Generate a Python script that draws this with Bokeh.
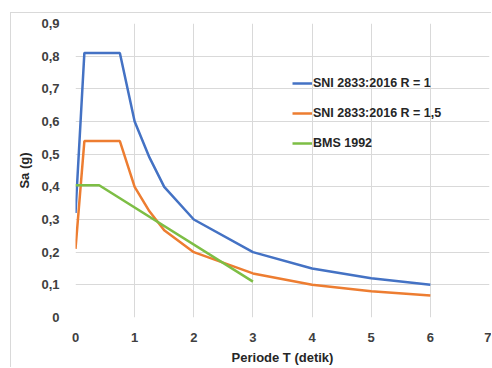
from bokeh.plotting import figure
from bokeh.models import Range1d, FixedTicker, Legend, LegendItem
from bokeh.embed import file_html
from bokeh.resources import INLINE

# Data
t_sni = [0, 0.15, 0.75, 1.0, 1.25, 1.5, 2, 3, 4, 5, 6]
sa_r1 = [0.32, 0.81, 0.81, 0.60, 0.49, 0.40, 0.30, 0.20, 0.15, 0.12, 0.10]
sa_r15 = [0.21, 0.54, 0.54, 0.40, 0.325, 0.267, 0.20, 0.135, 0.10, 0.08, 0.067]
t_bms = [0, 0.4, 3]
sa_bms = [0.405, 0.405, 0.11]

names = ["SNI 2833:2016 R = 1", "SNI 2833:2016 R = 1,5", "BMS 1992"]
colors = ["#4472C4", "#ED7D31", "#7DBE45"]

x_ticks = [0, 1, 2, 3, 4, 5, 6, 7]
y_ticks = [0, 0.1, 0.2, 0.3, 0.4, 0.5, 0.6, 0.7, 0.8, 0.9]
y_labels = ["0", "0,1", "0,2", "0,3", "0,4", "0,5", "0,6", "0,7", "0,8", "0,9"]

p = figure(width=481, height=355, output_backend="svg", toolbar_location=None,
           x_range=Range1d(0, 7), y_range=Range1d(0, 0.9),
           min_border_left=64, min_border_right=3, min_border_top=10, min_border_bottom=51)
p.margin = (12, 0, 0, 10)
p.styles = {"border-left": "1px solid #D9D9D9", "border-top": "1px solid #D9D9D9"}

p.outline_line_color = None
p.background_fill_color = "white"
p.border_fill_color = "white"

r1 = p.line(t_sni, sa_r1, color=colors[0], line_width=2.5)
r2 = p.line(t_sni, sa_r15, color=colors[1], line_width=2.5)
r3 = p.line(t_bms, sa_bms, color=colors[2], line_width=2.5)

p.xaxis.ticker = FixedTicker(ticks=x_ticks)
p.yaxis.ticker = FixedTicker(ticks=y_ticks)
p.yaxis.major_label_overrides = {v: s for v, s in zip(y_ticks, y_labels)}
p.xaxis.major_label_overrides = {v: str(v) for v in x_ticks}

for ax in (p.xaxis, p.yaxis):
    ax.axis_line_color = None
    ax.major_tick_line_color = None
    ax.minor_tick_line_color = None
    ax.major_label_text_font = "Liberation Sans"
    ax.major_label_text_font_style = "bold"
    ax.major_label_text_font_size = "13px"
    ax.major_label_text_color = "#404040"
    ax.axis_label_text_font = "Liberation Sans"
    ax.axis_label_text_font_style = "bold"
    ax.axis_label_text_font_size = "13px"
    ax.axis_label_text_color = "#262626"

p.xaxis.major_label_standoff = 9
p.yaxis.major_label_standoff = 10
p.xaxis.axis_label = "Periode T (detik)"
p.yaxis.axis_label = "Sa (g)"
p.xaxis.axis_label_standoff = 5
p.yaxis.axis_label_standoff = 6

p.xgrid.grid_line_color = "#D9D9D9"
p.ygrid.grid_line_color = "#D9D9D9"
p.xgrid.ticker = FixedTicker(ticks=x_ticks)
p.ygrid.ticker = FixedTicker(ticks=y_ticks)

legend = Legend(items=[LegendItem(label=names[0], renderers=[r1]),
                       LegendItem(label=names[1], renderers=[r2]),
                       LegendItem(label=names[2], renderers=[r3])],
                location=(217, 164))
legend.background_fill_alpha = 0
legend.border_line_color = None
legend.label_text_font = "Liberation Sans"
legend.label_text_font_style = "bold"
legend.label_text_font_size = "12.5px"
legend.label_text_color = "#262626"
legend.glyph_width = 20
legend.glyph_height = 20
legend.label_height = 20
legend.label_standoff = 1
legend.spacing = 10
legend.padding = 0
legend.margin = 0
p.add_layout(legend)

open("out.html", "w").write(file_html(p, INLINE))
